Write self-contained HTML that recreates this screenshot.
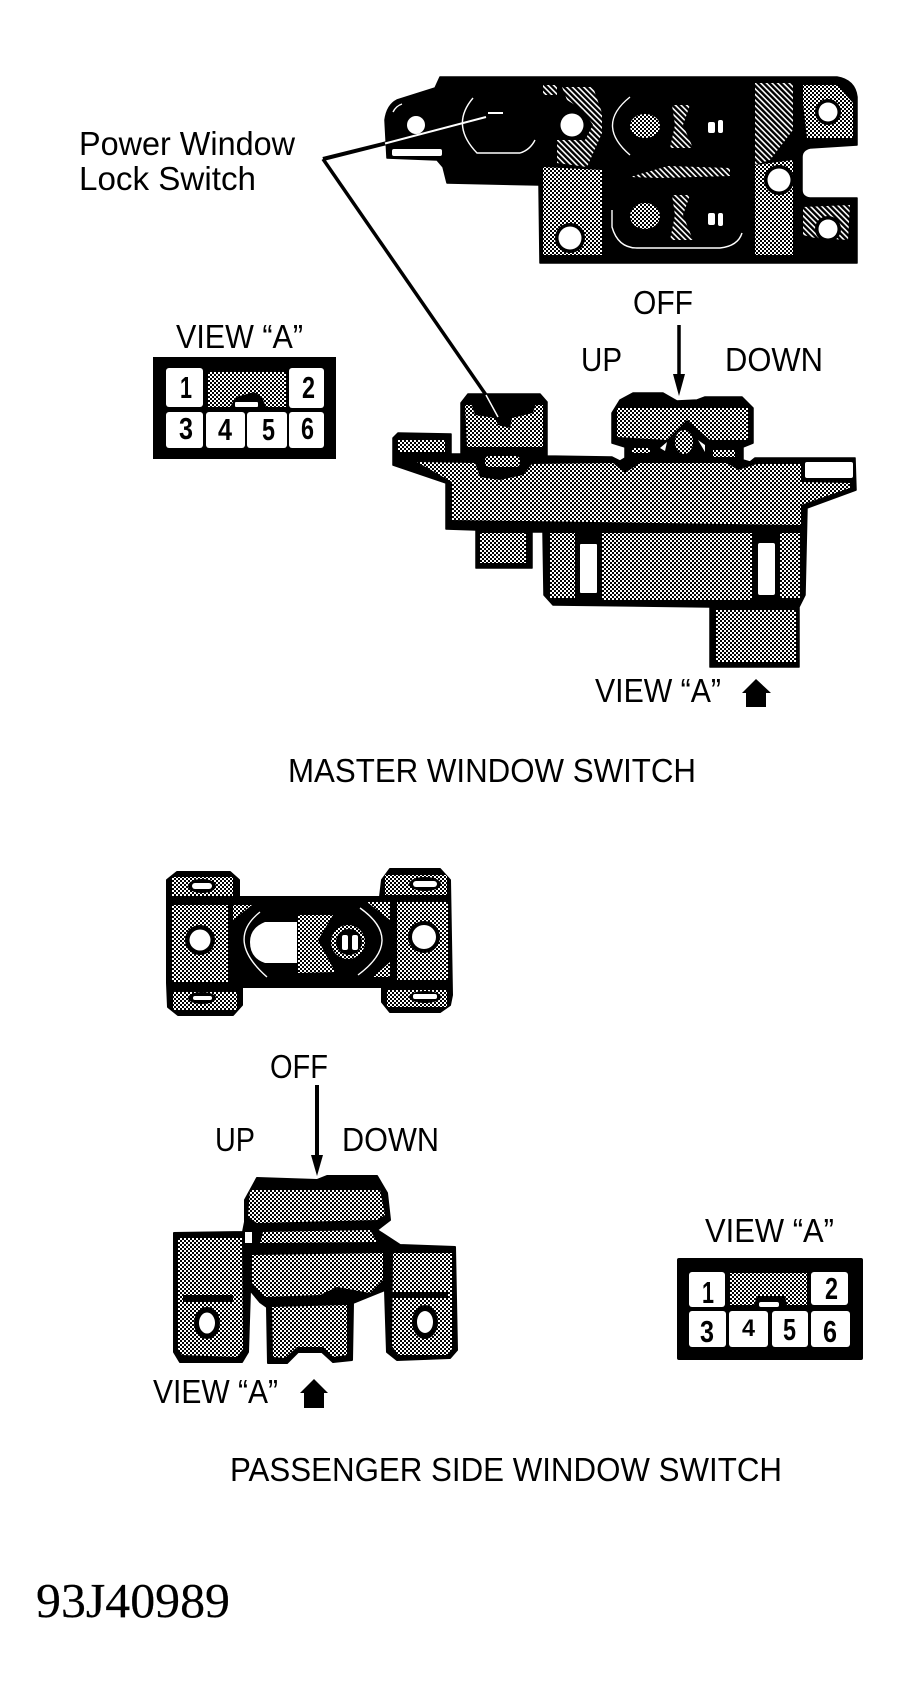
<!DOCTYPE html>
<html><head><meta charset="utf-8"><style>
html,body{margin:0;padding:0;background:#fff;width:901px;height:1691px;overflow:hidden}
svg{display:block}
text{font-family:"Liberation Sans",sans-serif;font-size:33px;fill:#000}
.d{font-weight:bold;font-size:31px}
</style></head><body>
<svg width="901" height="1691" viewBox="0 0 901 1691" xmlns="http://www.w3.org/2000/svg">
<defs>
<pattern id="h" width="4" height="4" patternUnits="userSpaceOnUse"><rect width="4" height="4" fill="#fff"/><rect width="2" height="2" fill="#000"/><rect x="2" y="2" width="2" height="2" fill="#000"/></pattern>
<pattern id="k" width="4" height="4" patternUnits="userSpaceOnUse" patternTransform="rotate(45)"><rect width="4" height="4" fill="#000"/><rect width="4" height="1.600" fill="#fff"/></pattern>
</defs>
<rect width="901" height="1691" fill="#fff"/>

<!-- Master top view -->
<path d="M440,77L837,77Q855,80 857,97L857,145L810,148Q802,150 802,157L802,190Q802,197 810,198L857,198L857,263L540,263L539,185L447,183L443,167L437,160L387,158L385,120Q387,105 397,100L435,88Z" fill="#000" stroke="#000" stroke-width="1.5" stroke-linejoin="round"/>
<g fill="url(#k)">
<path d="M543,85L557,85L557,95L543,95Z"/>
<path d="M562,87L593,87L602,113L602,133L587,167L557,163L557,140L585,140L593,125L583,110L567,100Z"/>
<path d="M755,83L793,83L793,130L770,160L755,165Z"/>
<path d="M803,207L850,205L848,240L815,238L803,235Z"/>
<path d="M630,177L668,166L730,168L730,176L660,178Z"/>
<path d="M672,105L690,105L683,125L693,148L670,148L675,125Z"/>
<path d="M672,195L690,195L683,215L693,240L670,240L675,215Z"/>
</g>
<g fill="url(#h)">
<path d="M543,167L602,170L602,255L543,255Z"/>
<path d="M755,165L793,160L793,255L755,255Z"/>
<path d="M803,85L837,85L853,103L853,138L807,138L803,103Z"/>
<ellipse cx="645" cy="126" rx="15" ry="12"/>
<ellipse cx="645" cy="216" rx="15" ry="13"/>
</g>
<g fill="#000"><circle cx="570" cy="238" r="15"/><circle cx="779" cy="180" r="15"/><circle cx="828" cy="112" r="13"/><circle cx="828" cy="229" r="13"/></g>
<g fill="#fff">
<circle cx="572" cy="125" r="11.5"/><circle cx="570" cy="238" r="11.5"/><circle cx="779" cy="180" r="11.5"/>
<circle cx="828" cy="112" r="9.5"/><circle cx="828" cy="229" r="9.5"/><circle cx="416" cy="125" r="9"/>
<rect x="392" y="149" width="50" height="7" rx="2"/>
<rect x="708" y="122" width="7" height="11" rx="2"/><rect x="718" y="120" width="5" height="13" rx="2"/>
<rect x="708" y="213" width="7" height="12" rx="2"/><rect x="718" y="213" width="5" height="13" rx="2"/>
<rect x="488" y="112" width="15" height="2"/>
</g>
<g fill="none" stroke="#fff" stroke-width="1.4">
<path d="M473,98Q450,125 477,153L520,153Q530,150 535,140"/>
<path d="M630,97Q595,125 630,155"/>
<path d="M612,210L612,227Q618,248 637,248L720,248Q738,246 742,233"/>
<path d="M393,112Q396,106 402,104"/>
</g>
<path d="M323,159L387,143" stroke="#000" stroke-width="4" fill="none"/>
<path d="M385,143.500L486,117" stroke="#fff" stroke-width="2" fill="none"/>
<path d="M323,159L486,395" stroke="#000" stroke-width="3.5" fill="none"/>

<text x="79" y="155" textLength="216" lengthAdjust="spacingAndGlyphs">Power Window</text>
<text x="79" y="190" textLength="177" lengthAdjust="spacingAndGlyphs">Lock Switch</text>

<!-- Connector A -->
<text x="176" y="348" textLength="127" lengthAdjust="spacingAndGlyphs">VIEW “A”</text>
<rect x="153" y="357" width="183" height="102" fill="#000"/>
<rect x="208" y="372" width="78" height="35" fill="url(#h)"/>
<g fill="#fff">
<rect x="166" y="368" width="37" height="39" rx="3"/><rect x="289" y="368" width="35" height="40" rx="3"/>
<rect x="166" y="412" width="37" height="36" rx="3"/><rect x="206" y="412" width="39" height="36" rx="3"/>
<rect x="247" y="412" width="40" height="36" rx="3"/><rect x="289" y="412" width="35" height="36" rx="3"/>
</g>
<path d="M230,407L236,397L254,392L262,397L266,407Z" fill="#000"/>
<rect x="235" y="402" width="23" height="5" rx="1" fill="#fff"/>
<text class="d" x="180" y="398" textLength="12" lengthAdjust="spacingAndGlyphs">1</text>
<text class="d" x="302" y="398" textLength="13" lengthAdjust="spacingAndGlyphs">2</text>
<text class="d" x="179" y="439" textLength="14" lengthAdjust="spacingAndGlyphs">3</text>
<text class="d" x="218" y="440" textLength="14" lengthAdjust="spacingAndGlyphs">4</text>
<text class="d" x="262" y="440" textLength="13" lengthAdjust="spacingAndGlyphs">5</text>
<text class="d" x="301" y="439" textLength="13" lengthAdjust="spacingAndGlyphs">6</text>

<!-- Master side view -->
<text x="633" y="314" textLength="60" lengthAdjust="spacingAndGlyphs">OFF</text>
<text x="581" y="371" textLength="41" lengthAdjust="spacingAndGlyphs">UP</text>
<text x="725" y="371" textLength="98" lengthAdjust="spacingAndGlyphs">DOWN</text>
<path d="M679,325L679,378" stroke="#000" stroke-width="3.500"/>
<path d="M673,374L685,374L679,396Z" fill="#000"/>

<path d="M393,438L398,433L451,434L451,454L461,454L461,403L468,394L540,394L547,402L547,456L612,457L620,461L625,458L625,447L612,443L612,413L620,400L633,393L663,393L677,401L697,400L705,397L742,397L753,408L753,443L743,447L743,460L750,462L755,458L855,458L856,490L807,508L805,595L799,607L799,667L710,667L710,607L553,605L544,595L543,532L532,532L532,568L476,568L476,530L446,529L446,483L393,465Z" fill="#000" stroke="#000" stroke-width="1.500" stroke-linejoin="round"/>
<g fill="url(#h)">
<path d="M417,462L475,463L480,477L500,480L523,475L532,464L613,463L625,473L640,463L727,463L738,470L757,464L801,464L801,482L850,483L850,488L801,505L801,525L452,520L452,482Z"/>
<rect x="398" y="440" width="47" height="12"/>
<path d="M465,405L543,405L543,447L467,447Z"/>
<rect x="485" y="456" width="35" height="11" rx="4"/>
<path d="M617,408L748,408L748,440L710,440L687,420L667,440L617,437Z"/>
<ellipse cx="684" cy="442" rx="9" ry="12"/>
<rect x="632" y="448" width="18" height="5"/><rect x="713" y="450" width="22" height="7"/>
<rect x="480" y="533" width="46" height="30"/>
<rect x="550" y="533" width="25" height="65"/><rect x="602" y="533" width="150" height="67"/><rect x="780" y="533" width="20" height="65"/>
<rect x="716" y="610" width="80" height="52"/>
</g>
<path d="M470,400L537,400L533,413L512,418L510,428L498,425L495,418L475,415Z" fill="#000"/>
<path d="M486,395L498,417" stroke="#fff" stroke-width="1.500"/>
<path d="M660,448L667,442L665,451Z" fill="#fff"/><path d="M698,440L705,445L705,452Z" fill="#fff"/>
<g fill="#fff">
<rect x="805" y="462" width="48" height="16" rx="2"/>
<rect x="580" y="544" width="17" height="49" rx="1"/>
<rect x="758" y="543" width="17" height="52" rx="2"/>
</g>
<text x="595" y="702" textLength="126" lengthAdjust="spacingAndGlyphs">VIEW “A”</text>
<path d="M756,679L771,693L766,693L766,707L746,707L746,693L742,693Z" fill="#000"/>
<text x="288" y="782" textLength="408" lengthAdjust="spacingAndGlyphs">MASTER WINDOW SWITCH</text>

<!-- Passenger top view -->
<path d="M167,880L177,872L230,872L239,880L239,897L380,897L382,880L390,869L440,869L450,880L452,995L450,1005L440,1012L390,1012L382,1002L382,987L242,987L242,1005L233,1015L178,1015L168,1007L167,983Z" fill="#000" stroke="#000" stroke-width="2" stroke-linejoin="round"/>
<g fill="url(#h)">
<rect x="172" y="877" width="61" height="19"/>
<rect x="172" y="905" width="56" height="77"/>
<rect x="173" y="992" width="64" height="18"/>
<rect x="385" y="875" width="62" height="20"/>
<rect x="397" y="902" width="51" height="78"/>
<rect x="387" y="990" width="60" height="17"/>
<path d="M233,905L252,905L233,920Z"/><path d="M367,902L390,902L390,920Z"/><path d="M373,977L390,977L390,962Z"/>
<path d="M298,915L333,915L318,940L335,972L298,973Z"/>
</g>
<g fill="#000">
<ellipse cx="202" cy="886" rx="14" ry="7"/><ellipse cx="202" cy="998" rx="14" ry="6"/><ellipse cx="425" cy="884" rx="16" ry="7"/><ellipse cx="425" cy="997" rx="16" ry="6"/>
<circle cx="200" cy="940" r="15"/><circle cx="424" cy="937" r="16"/>
</g>
<g fill="#fff">
<path d="M265,922L297,922L297,963L265,963Q250,958 250,942Q250,928 265,922Z"/>
<circle cx="200" cy="940" r="10.500"/><circle cx="424" cy="937" r="12"/>
<rect x="192" y="883" width="20" height="6" rx="3"/>
<rect x="193" y="996" width="19" height="4" rx="2"/>
<rect x="413" y="881" width="24" height="6" rx="3"/>
<rect x="413" y="994" width="24" height="5" rx="2"/>
</g>
<circle cx="348" cy="942" r="17" fill="url(#h)"/><circle cx="349" cy="942" r="13" fill="#000"/>
<rect x="342" y="935" width="6" height="15" rx="2" fill="#fff"/><rect x="352" y="935" width="6" height="15" rx="2" fill="#fff"/>
<g fill="none" stroke="#fff" stroke-width="1.400">
<path d="M260,912Q225,940 267,977"/>
<path d="M360,908Q405,940 358,975"/>
</g>

<!-- Passenger side view -->
<text x="270" y="1078" textLength="58" lengthAdjust="spacingAndGlyphs">OFF</text>
<text x="215" y="1151" textLength="40" lengthAdjust="spacingAndGlyphs">UP</text>
<text x="342" y="1151" textLength="97" lengthAdjust="spacingAndGlyphs">DOWN</text>
<path d="M317,1085L317,1160" stroke="#000" stroke-width="4"/>
<path d="M311,1155L323,1155L317,1176Z" fill="#000"/>
<path d="M245,1200L257,1178L317,1180L327,1176L377,1176L387,1193L390,1220L377,1230L400,1245L455,1247L457,1350L450,1358L397,1360L387,1352L385,1290L353,1303L352,1360L333,1362L322,1352L298,1352L287,1363L268,1363L267,1307L260,1302L250,1290L248,1352L242,1362L180,1362L174,1352L174,1233L243,1232L245,1222Z" fill="#000" stroke="#000" stroke-width="2" stroke-linejoin="round"/>
<g fill="url(#h)">
<path d="M250,1190L380,1190L385,1215L377,1220L257,1223L248,1217Z"/>
<path d="M263,1232L370,1230L377,1242L260,1243Z"/>
<path d="M252,1255L383,1253L383,1280L370,1293L337,1287L320,1295L265,1297L252,1283Z"/>
<path d="M272,1307L347,1305L347,1355L333,1357L323,1347L297,1347L285,1358L273,1357Z"/>
<path d="M178,1238L242,1238L243,1349L237,1357L182,1355L178,1349Z"/>
<path d="M393,1253L452,1253L452,1349L447,1355L398,1355L392,1346Z"/>
</g>
<rect x="245" y="1232" width="7" height="11" fill="#fff"/>
<rect x="183" y="1295" width="50" height="7" fill="#000"/>
<rect x="392" y="1292" width="56" height="6" fill="#000"/>
<ellipse cx="207" cy="1323" rx="13" ry="16" fill="#000"/><ellipse cx="207" cy="1323" rx="8" ry="10.500" fill="#fff"/>
<ellipse cx="425" cy="1322" rx="13" ry="17" fill="#000"/><ellipse cx="425" cy="1322" rx="8" ry="11" fill="#fff"/>
<text x="153" y="1403" textLength="125" lengthAdjust="spacingAndGlyphs">VIEW “A”</text>
<path d="M314,1379L328,1393L324,1393L324,1408L304,1408L304,1393L300,1393Z" fill="#000"/>

<!-- Connector B -->
<text x="705" y="1242" textLength="129" lengthAdjust="spacingAndGlyphs">VIEW “A”</text>
<rect x="677" y="1258" width="186" height="102" rx="2" fill="#000"/>
<rect x="730" y="1273" width="77" height="32" fill="url(#h)"/>
<g fill="#fff">
<rect x="689" y="1272" width="36" height="35" rx="3"/><rect x="811" y="1272" width="37" height="33" rx="3"/>
<rect x="689" y="1311" width="37" height="36" rx="3"/><rect x="729" y="1311" width="39" height="36" rx="3"/>
<rect x="772" y="1311" width="36" height="36" rx="3"/><rect x="811" y="1311" width="39" height="36" rx="3"/>
</g>
<path d="M754,1305L757,1296L785,1296L787,1305Z" fill="#000"/>
<rect x="759" y="1302" width="20" height="5" rx="2" fill="#fff"/>
<text class="d" x="702" y="1303" textLength="12" lengthAdjust="spacingAndGlyphs">1</text>
<text class="d" x="825" y="1299" textLength="13" lengthAdjust="spacingAndGlyphs">2</text>
<text class="d" x="700" y="1342" textLength="14" lengthAdjust="spacingAndGlyphs">3</text>
<text class="d" x="742" y="1336" textLength="13" lengthAdjust="spacingAndGlyphs" style="font-size:24px">4</text>
<text class="d" x="783" y="1340" textLength="13" lengthAdjust="spacingAndGlyphs">5</text>
<text class="d" x="823" y="1342" textLength="14" lengthAdjust="spacingAndGlyphs">6</text>

<text x="230" y="1481" textLength="552" lengthAdjust="spacingAndGlyphs">PASSENGER SIDE WINDOW SWITCH</text>
<text x="36" y="1617" textLength="194" lengthAdjust="spacingAndGlyphs" style="font-family:'Liberation Serif',serif;font-size:49px;stroke:#000;stroke-width:.2">93J40989</text>
</svg>
</body></html>
